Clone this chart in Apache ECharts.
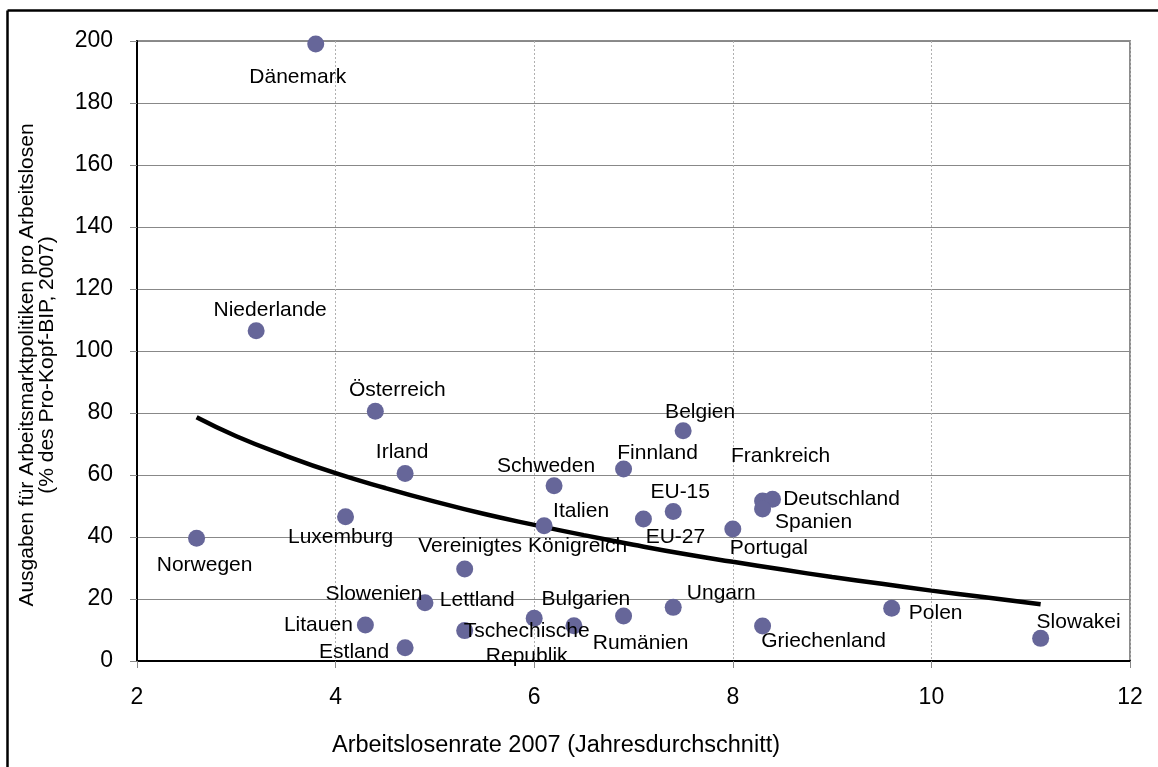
<!DOCTYPE html>
<html>
<head>
<meta charset="utf-8">
<script src="https://cdn.jsdelivr.net/npm/echarts@6/dist/echarts.min.js"></script>
<style>
html,body{margin:0;padding:0;background:#fff;}
#chart{width:1158px;height:767px;}
</style>
</head>
<body>
<div id="chart"></div>
<script>
// ---- data ----
var countries = ['Dänemark','Niederlande','Österreich','Irland','Luxemburg','Norwegen',
  'Vereinigtes Königreich','Slowenien','Litauen','Estland','Tschechische\nRepublik','Lettland',
  'Bulgarien','Rumänien','Ungarn','Schweden','Italien','Finnland','EU-27','EU-15','Belgien',
  'Portugal','Frankreich','Deutschland','Spanien','Griechenland','Polen','Slowakei'];
var unemployment = [3.8,3.2,4.4,4.7,4.1,2.6,5.3,4.9,4.3,4.7,5.3,6.0,6.4,6.9,7.4,6.2,6.1,6.9,7.1,7.4,7.5,8.0,8.3,8.4,8.3,8.3,9.6,11.1];
var spending = [199,106.5,80.6,60.5,46.5,39.6,29.7,18.8,11.6,4.3,9.8,13.8,11.4,14.5,17.3,56.5,43.6,61.9,45.8,48.2,74.3,42.6,51.6,52.2,49.0,11.3,17.0,7.3];
var trendX = [2.6,3,3.5,4,4.5,5,5.5,6,6.5,7,7.5,8,8.5,9,9.5,10,10.5,11.1];
var trendY = [78.6,72.5,66.2,60.6,55.8,51.4,47.4,43.9,40.6,37.5,34.6,32.0,29.5,27.1,24.9,22.7,20.7,18.3];
var xTicks = [2,4,6,8,10,12];
var yTicks = [0,20,40,60,80,100,120,140,160,180,200];

// label placement (pixel offsets from the marker centre)
var labelOffsets = [[-18,33],[14,-21],[22,-21],[-3,-21],[-5,20],[8,27],[58,-23],[-51,-9],[-47,0],[-51,5],
  [62,13],[-57,-18],[12,-26],[17,27],[48,-14],[-8,-20],[37,-15],[34,-16],[32,18],[7,-19],[17,-18],
  [36,19],[18,-45],[69,0],[51,13],[61,15],[44,5],[38,-16]];

var FONT = "'Liberation Sans', Arial, sans-serif";
var pts = countries.map(function(c,i){
  return {
    name: c,
    value: [unemployment[i], spending[i]],
    label: {offset: labelOffsets[i]}
  };
});
var trend = trendX.map(function(x,i){ return [x, trendY[i]]; });

var chart = echarts.init(document.getElementById('chart'));
chart.setOption({
  animation: false,
  backgroundColor: '#fff',
  grid: {left:137, top:41, right:28, bottom:106, show:true, borderColor:'#8c8c8c', borderWidth:2, backgroundColor:'transparent'},
  xAxis: {
    type:'value', min:xTicks[0], max:xTicks[xTicks.length-1], interval:2,
    axisLine:{show:true, onZero:false, lineStyle:{color:'#000', width:2}},
    axisTick:{show:true, length:7, lineStyle:{color:'#888', width:1}},
    axisLabel:{color:'#000', fontFamily:FONT, fontSize:23, margin:25},
    splitLine:{show:true, lineStyle:{color:'#b0b0b0', type:[2,2], width:1}}
  },
  yAxis: {
    type:'value', min:yTicks[0], max:yTicks[yTicks.length-1], interval:20,
    axisLine:{show:true, onZero:false, lineStyle:{color:'#000', width:2}},
    axisTick:{show:true, length:7, lineStyle:{color:'#888', width:1}},
    axisLabel:{color:'#000', fontFamily:FONT, fontSize:23, margin:24},
    splitLine:{show:true, lineStyle:{color:'#888', width:1.2}}
  },
  series: [
    {
      type:'line', data: trend, smooth:true, symbol:'none', z:3,
      lineStyle:{color:'#000', width:4.5}
    },
    {
      type:'scatter', data: pts, symbol:'circle', symbolSize:17, z:4,
      itemStyle:{color:'#666699', opacity:1},
      label:{show:true, position:'inside', formatter:'{b}', color:'#000',
        fontFamily:FONT, fontSize:21, lineHeight:25, align:'center', verticalAlign:'middle'}
    }
  ],
  graphic: [
    {type:'line', shape:{x1:7.5, y1:10.5, x2:1158, y2:10.5}, style:{stroke:'#000', lineWidth:2.5}, z:10},
    {type:'line', shape:{x1:7.5, y1:10.5, x2:7.5, y2:767}, style:{stroke:'#000', lineWidth:2.5}, z:10},
    {type:'text', z:10, x:556, y:746,
      style:{text:'Arbeitslosenrate 2007 (Jahresdurchschnitt)', font:'23.5px '+FONT, fill:'#000', textAlign:'center', textVerticalAlign:'middle'}},
    {type:'text', z:10, x:37, y:365, rotation:Math.PI/2,
      style:{text:'Ausgaben für Arbeitsmarktpolitiken pro Arbeitslosen\n(% des Pro-Kopf-BIP, 2007)', font:'21px '+FONT, fill:'#000', textAlign:'center', textVerticalAlign:'middle', lineHeight:20}}
  ]
});
</script>
</body>
</html>
